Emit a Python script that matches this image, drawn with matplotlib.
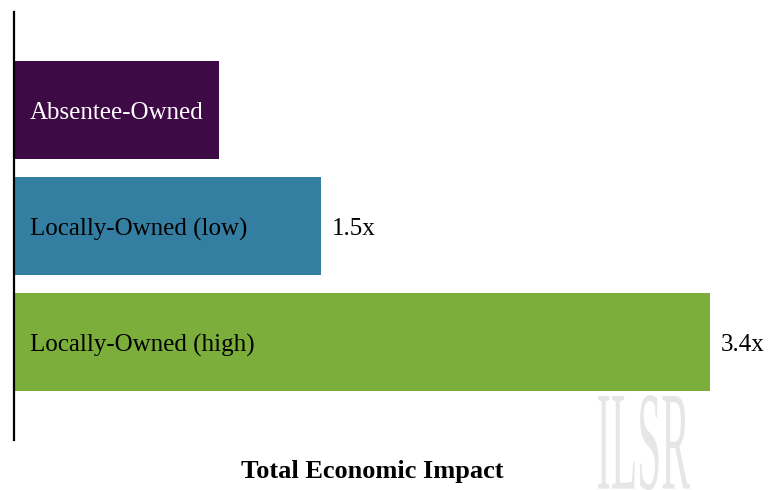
import matplotlib
matplotlib.use("Agg")
import matplotlib.pyplot as plt
from matplotlib.textpath import TextPath
from matplotlib.patches import PathPatch
from matplotlib.font_manager import FontProperties
from matplotlib.transforms import Affine2D

categories = ["Absentee-Owned", "Locally-Owned (low)", "Locally-Owned (high)"]
values = [1.0, 1.5, 3.4]
value_labels = ["", "1.5x", "3.4x"]
colors = ["#3E0A46", "#347FA1", "#7BAE3B"]
text_colors = ["white", "black", "black"]
xlabel = "Total Economic Impact"

plt.rcParams['font.family'] = ['Liberation Serif', 'DejaVu Serif']

W, H = 771, 490
fig = plt.figure(figsize=(W/100, H/100), dpi=100)
ax = fig.add_axes([14/W, 50/H, (771-14)/W, (440-12)/H])

pos = list(range(len(values)))
ax.barh(pos, values, height=0.845, color=colors)
ax.set_ylim(2.845, -0.845)
ax.set_xlim(0, 3.7)

for p, v, c, tc, vl in zip(pos, values, categories, text_colors, value_labels):
    ax.annotate(c, xy=(0, p), xytext=(11.5, -2.5), textcoords='offset points',
                color=tc, fontsize=18, va='center', ha='left')
    if vl:
        ax.annotate(vl, xy=(v, p), xytext=(8, -2.5), textcoords='offset points',
                    color='black', fontsize=18, va='center', ha='left')

for s in ['top', 'right', 'bottom']:
    ax.spines[s].set_visible(False)
ax.spines['left'].set_linewidth(1.6)
ax.set_xticks([])
ax.set_yticks([])

fig.text(372/W, 1 - 471/H, xlabel, fontsize=19, fontweight='bold', ha='center', va='center')

# watermark
fp = FontProperties(family='Liberation Serif')
tp = TextPath((0, 0), "ILSR", size=100, prop=fp)
bb = tp.get_extents()
sx = 92 / bb.width
sy = 95 / bb.height
tr = Affine2D().translate(-bb.x0, -bb.y0).scale(sx, sy).translate(598, 0)
patch = PathPatch(tr.transform_path(tp), facecolor="#E6E6E6", edgecolor="none", zorder=0)
patch.set_transform(Affine2D())
fig.patches.append(patch)

fig.savefig("out.png", dpi=100)
